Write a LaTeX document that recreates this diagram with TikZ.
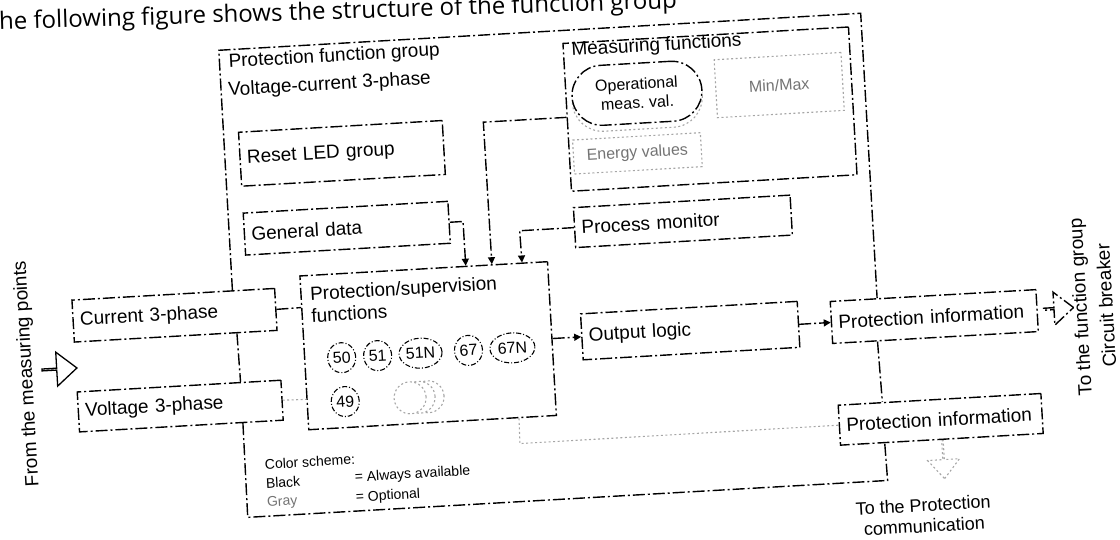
\documentclass[tikz,border=0pt]{standalone}
\usepackage{fontspec}
\setmainfont{Liberation Sans}
\newfontfamily\bodyfont{Open Sans}
\usetikzlibrary{arrows.meta,calc,shapes.arrows,shapes.geometric}

\begin{document}
\begin{tikzpicture}[x=1pt, y=-1pt,
  scanline/.style={line width=1.4pt, dash pattern=on 12pt off 3pt on 2pt off 3pt},
  optline/.style={draw=gray!70, line width=1.1pt, dash pattern=on 2pt off 2.5pt},
  fnbox/.style={draw, scanline, rectangle, inner sep=7pt, align=left,
                font=\fontsize{19}{22}\selectfont},
  optbox/.style={optline, rectangle, inner sep=0pt, align=center, text=black!55,
                 font=\fontsize{16}{18}\selectfont},
  lbl/.style={inner sep=0pt, font=\fontsize{19}{22}\selectfont},
  legend/.style={inner sep=0pt, font=\fontsize{14}{16}\selectfont},
  ansi/.style={ellipse, draw, line width=1.1pt, dash pattern=on 5pt off 2pt on 1pt off 2pt,
               minimum width=28, minimum height=30, inner sep=0pt,
               font=\fontsize{16}{16}\selectfont},
  optcirc/.style={circle, optline, fill=white, minimum size=32, inner sep=0pt},
  fatarrow/.style={single arrow, draw, line width=1.3pt, inner sep=0pt,
                   single arrow head extend=11pt, single arrow tip angle=80},
  tip/.style={-{Triangle[length=7pt,width=7pt]}},
]

\useasboundingbox (0,0) rectangle (1120,540);

\begin{scope}[rotate around={3.3:(560,270)}, transform shape]

\node[fnbox, text width=189pt, minimum height=42] (cur) at (172.5,293) {Current 3-phase};
\node[fnbox, text width=190pt, minimum height=40] (volt) at (173,384) {Voltage 3-phase};
\node[fnbox, text width=190pt, minimum height=54] (rstled) at (349,141) {Reset LED group};
\node[fnbox, text width=191pt, minimum height=42] (gendata) at (349.5,216) {General data};
\node[fnbox, text width=203pt, minimum height=40] (procmon) at (685.5,228.5) {Process monitor};
\node[fnbox, text width=234pt, minimum height=154] (protsup) at (424,338) {};
\node[fnbox, text width=203pt, minimum height=46] (outlogic) at (686.5,338) {Output logic};
\node[fnbox, text width=192pt, minimum height=42] (protinfoA) at (931,338) {Protection information};
\node[fnbox, text width=189pt, minimum height=40] (protinfoB) at (931.5,441) {Protection information};
\node[fnbox, text width=272pt, minimum height=148] (measfn) at (719,118) {};

\node[lbl, anchor=west] (pfgtitle) at (241,44) {Protection function group};
\node[lbl, anchor=west] (pfgsub) at (239,72) {Voltage-current 3-phase};
\node[lbl, anchor=north west, align=left] (pstitle) at (309,272) {Protection/supervision\\functions};
\node[lbl, anchor=west] (mftitle) at (584,52) {Measuring functions};

\node[optbox, rounded corners=30pt, minimum width=130, minimum height=60] (opstack) at (647,104) {};
\node[draw, scanline, fill=white, rounded corners=30pt, minimum width=130, minimum height=60,
      align=center, font=\fontsize{16}{19}\selectfont] (opval) at (647,98) {Operational\\meas.\ val.};
\node[optbox, minimum width=127, minimum height=58] (minmax) at (789.5,98) {Min/Max};
\node[optbox, minimum width=128, minimum height=34] (energy) at (644,158) {Energy values};

\node[ansi] (f50) at (337,345) {50};
\node[ansi] (f51) at (373,345) {51};
\node[ansi, minimum width=43] (f51N) at (416,345) {51N};
\node[ansi] (f67) at (464,345) {67};
\node[ansi, minimum width=45] (f67N) at (508,345) {67N};
\node[ansi] (f49) at (338,389) {49};
\node[optcirc] (fmoreC) at (421,389) {};
\node[optcirc] (fmoreB) at (412,389) {};
\node[optcirc] (fmoreA) at (403,389) {};

\coordinate (pfgnw) at (232,31);
\coordinate (pfgne) at (875,31);
\draw[scanline] ($(cur.north west)!0.79!(cur.north east)$) -- (pfgnw) -- (pfgne)
  -- ($(protinfoA.north west)!0.23!(protinfoA.north east)$);

\coordinate (gdbend) at (466,216);
\coordinate (mfbend) at (492,118);
\coordinate (pmbend) at (522,228.5);
\draw[scanline, tip] (gendata.east) -- (gdbend) -- ($(protsup.north west)!0.669!(protsup.north east)$);
\draw[scanline, tip] (measfn.west) -- (mfbend) -- ($(protsup.north west)!0.774!(protsup.north east)$);
\draw[scanline, tip] (procmon.west) -- (pmbend) -- ($(protsup.north west)!0.895!(protsup.north east)$);

\draw[scanline] (cur.east) -- ($(protsup.north west)!0.208!(protsup.south west)$);
\draw[optline] (volt.east) -- ($(protsup.north west)!0.80!(protsup.south west)$);
\draw[scanline] ($(cur.south west)!0.8!(cur.south east)$) -- ($(volt.north west)!0.8!(volt.north east)$);
\draw[scanline, tip] (protsup.east) -- (outlogic.west);
\draw[scanline, tip] (outlogic.east) -- (protinfoA.west);
\draw[scanline] ($(protinfoA.south west)!0.22!(protinfoA.south east)$)
  -- ($(protinfoB.north west)!0.22!(protinfoB.north east)$);

\coordinate (psdrop) at (510,441);
\draw[optline] ($(protsup.south west)!0.847!(protsup.south east)$) -- (psdrop) -- (protinfoB.west);

\coordinate (lgsw) at (234,499);
\coordinate (lgse) at (875,499);
\draw[scanline] ($(volt.south west)!0.8!(volt.south east)$) -- (lgsw) -- (lgse)
  -- ($(protinfoB.south west)!0.22!(protinfoB.south east)$);

\node[fatarrow, minimum height=35, minimum width=34] (inarrow) at (54,340) {};
\node[fatarrow, scanline, minimum height=30, minimum width=33] (outarrow) at (1055,337) {};
\node[fatarrow, optline, rotate=-90, minimum height=38, minimum width=32] (commarrow) at (932,481) {};

\node[lbl, rotate=90] (srclabel) at (22,343) {From the measuring points};
\node[lbl, rotate=90, align=center, font=\fontsize{19}{26}\selectfont] (cblabel) at (1090,337)
  {To the function group\\Circuit breaker};
\node[lbl, align=center, font=\fontsize{18}{21}\selectfont] (commlabel) at (909,536)
  {To the Protection\\communication};

\node[legend, anchor=west] (lgtitle) at (254,447) {Color scheme:};
\node[legend, anchor=west] (lgblack) at (254,466) {Black};
\node[legend, anchor=west] (lgalways) at (343,466) {= Always available};
\node[legend, anchor=west, text=black!55] (lggray) at (254,486) {Gray};
\node[legend, anchor=west] (lgoptional) at (343,486) {= Optional};

\end{scope}

\node[anchor=base west, rotate=1.8, inner sep=0pt, font=\bodyfont\fontsize{24}{28}\selectfont]
  (introtext) at (-14,30) {The following figure shows the structure of the function group};

\end{tikzpicture}
\end{document}
